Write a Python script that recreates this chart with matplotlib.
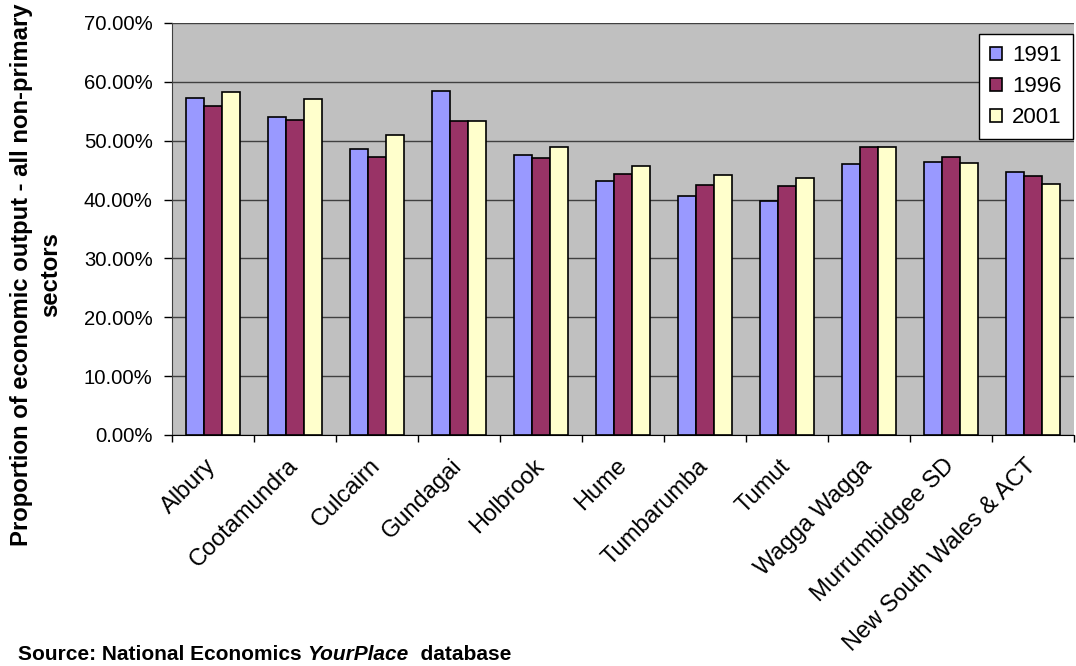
import numpy as np
import matplotlib.pyplot as plt
from matplotlib.ticker import PercentFormatter

plt.rcParams['font.family'] = ['Liberation Sans', 'DejaVu Sans']

regions = ['Albury', 'Cootamundra', 'Culcairn', 'Gundagai', 'Holbrook', 'Hume',
           'Tumbarumba', 'Tumut', 'Wagga Wagga', 'Murrumbidgee SD',
           'New South Wales & ACT']
years = ['1991', '1996', '2001']
v1991 = [57.3, 54.0, 48.6, 58.5, 47.5, 43.1, 40.6, 39.7, 46.1, 46.4, 44.6]
v1996 = [55.9, 53.5, 47.3, 53.3, 47.0, 44.4, 42.5, 42.3, 49.0, 47.2, 44.0]
v2001 = [58.3, 57.1, 50.9, 53.3, 49.0, 45.7, 44.2, 43.6, 48.9, 46.2, 42.7]
colors = ['#9999FF', '#993366', '#FFFFCC']

fig = plt.figure(figsize=(10.76, 6.66), dpi=100)
# plot area: x 172..1074 px, y 23..435 px
ax = fig.add_axes([172 / 1076, 1 - 435 / 666, 902 / 1076, 412 / 666])
ax.set_facecolor('#C0C0C0')

x = np.arange(len(regions))
w = 1 / 4.5
for i, (vals, yr) in enumerate(zip([v1991, v1996, v2001], years)):
    ax.bar(x + (i - 1) * w, vals, w, color=colors[i], edgecolor='black',
           linewidth=1.2, label=yr, zorder=3)

ax.set_ylim(0, 70)
ax.set_xlim(-0.5, len(regions) - 0.5)
ax.set_yticks(np.arange(0, 71, 10))
ax.yaxis.set_major_formatter(PercentFormatter(decimals=2))
ax.grid(axis='y', color='#404040', linewidth=1, zorder=1)

ax.set_xticks(x)
ax.set_xticklabels(regions, rotation=45, ha='right', va='center',
                   rotation_mode='anchor', fontsize=17)
ax.tick_params(axis='x', length=0, pad=20)
ax.set_xticks(np.arange(-0.5, len(regions)), minor=True)
ax.tick_params(axis='x', which='minor', length=5, direction='out', width=1)
ax.tick_params(axis='y', labelsize=14.6, length=6, width=1, pad=8,
               direction='out')

for s in ['top', 'right']:
    ax.spines[s].set_visible(False)
ax.spines['left'].set_color('#404040')
ax.spines['bottom'].set_color('black')

fig.text(36 / 1076, 1 - 275 / 666,
         'Proportion of economic output - all non-primary\nsectors',
         rotation=90, ha='center', va='center', multialignment='center',
         fontsize=17.2, fontweight='bold', linespacing=1.3)

leg = ax.legend(loc='upper right', bbox_to_anchor=(1073 / 1076, 1 - 34 / 666),
                bbox_transform=fig.transFigure, fontsize=16,
                fancybox=False, framealpha=1, edgecolor='black',
                handlelength=0.55, handleheight=0.55, handletextpad=0.45,
                borderpad=0.5, labelspacing=0.45, borderaxespad=0)
leg.get_frame().set_linewidth(1)

# source line: bold, with the database name in bold italic
fs = 15
t1 = fig.text(18 / 1076, 6 / 666, 'Source: National Economics ',
              fontsize=fs, fontweight='bold', va='baseline')
fig.canvas.draw()
x1 = t1.get_window_extent().x1
t2 = fig.text(x1 / 1076, 6 / 666, 'YourPlace', fontsize=fs, fontweight='bold',
              style='italic', va='baseline')
fig.canvas.draw()
x2 = t2.get_window_extent().x1
fig.text(x2 / 1076, 6 / 666, '  database', fontsize=fs,
         fontweight='bold', va='baseline')

fig.savefig('out.png', dpi=100)
